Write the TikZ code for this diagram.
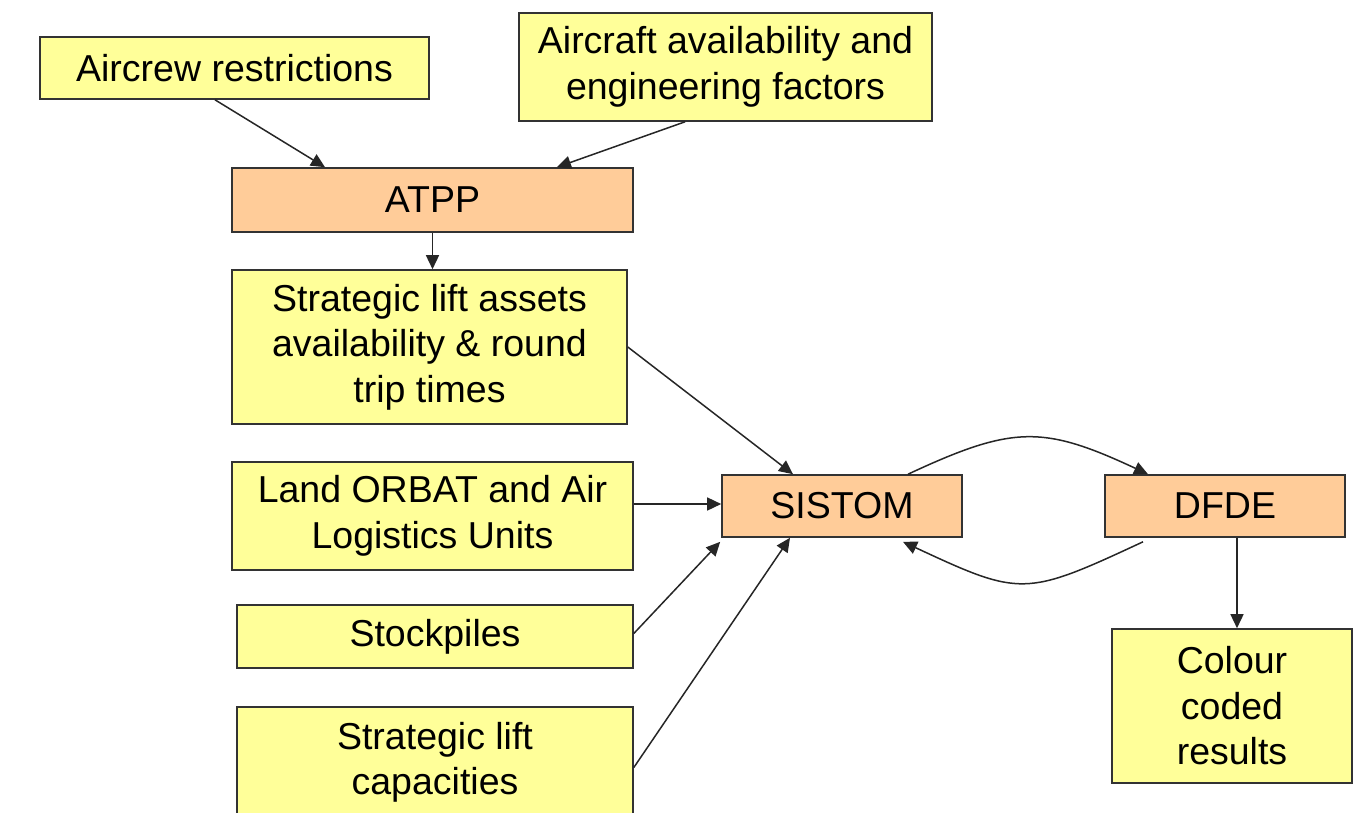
\documentclass[tikz,border=0pt]{standalone}
\usepackage{fontspec}
\setmainfont{Liberation Sans}
\usetikzlibrary{arrows.meta}
\definecolor{inbox}{HTML}{FFFF99}
\definecolor{procbox}{HTML}{FFCC99}
\definecolor{edge}{HTML}{333333}
\begin{document}
\begin{tikzpicture}[x=1pt,y=-1pt,
  every node/.style={font=\fontsize{37.5}{45.5}\selectfont, align=center, inner sep=0pt},
  databox/.style={draw=edge, line width=1.6pt, fill=inbox},
  procbox/.style={draw=edge, line width=1.6pt, fill=procbox},
  link/.style={draw=black!85, line width=1.5pt, -{Triangle[length=14pt,width=13pt]}}]
\useasboundingbox (0,0) rectangle (1353,812);

% input and result boxes
\node[databox, minimum width=389pt, minimum height=62pt] (aircrew) at (234.5,68) {Aircrew restrictions};
\node[databox, minimum width=413pt, minimum height=108pt] (aircraft) at (725.5,67) {Aircraft availability and\\engineering factors};
\node[databox, minimum width=395pt, minimum height=154pt] (assets) at (429.5,347) {Strategic lift assets\\availability \& round\\trip times};
\node[databox, minimum width=401pt, minimum height=108pt] (land) at (432.5,516) {Land ORBAT and Air\\Logistics Units};
\node[databox, minimum width=396pt, minimum height=63pt] (stock) at (435,636.5) {Stockpiles};
\node[databox, minimum width=396pt, minimum height=111pt] (caps) at (435,762.5) {Strategic lift\\capacities};
\node[databox, minimum width=240pt, minimum height=154pt] (results) at (1232,706) {Colour\\coded\\results};

% models
\node[procbox, minimum width=401pt, minimum height=64pt] (atpp) at (432.5,200) {ATPP};
\node[procbox, minimum width=240pt, minimum height=62pt] (sistom) at (842,506) {SISTOM};
\node[procbox, minimum width=240pt, minimum height=62pt] (dfde) at (1225,506) {DFDE};

% data flow
\draw[link] ([xshift=-19.5pt]aircrew.south) -- ([xshift=-107.5pt]atpp.north);
\draw[link] ([xshift=-40.5pt]aircraft.south) -- ([xshift=124.5pt]atpp.north);
\draw[link] (atpp.south) -- (assets.north -| atpp.south);
\draw[link] (assets.east) -- ([xshift=-49pt]sistom.north);
\draw[link] ([yshift=12pt]land.east) -- ([yshift=2pt]sistom.west);
\draw[link] ([yshift=3pt]stock.east) -- ([xshift=-1pt,yshift=-4pt]sistom.south west);
\draw[link] ([yshift=-5pt]caps.east) -- ([xshift=-52pt]sistom.south);
\draw[link] ([xshift=66pt]sistom.north) .. controls +(105,-49) and +(-105,-49) .. ([xshift=-77pt]dfde.north);
\draw[link] ([xshift=-82pt,yshift=-4pt]dfde.south) .. controls +(-118,55) and +(118,55) .. ([xshift=61pt,yshift=-4pt]sistom.south);
\draw[link] ([xshift=12pt]dfde.south) -- ([xshift=5pt]results.north);
\end{tikzpicture}
\end{document}
